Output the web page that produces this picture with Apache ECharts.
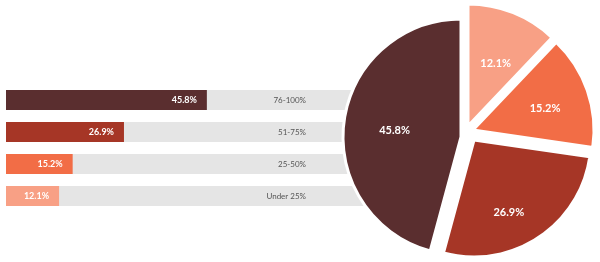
<!DOCTYPE html>
<html>
<head>
<meta charset="utf-8">
<script src="https://cdn.jsdelivr.net/npm/echarts@6/dist/echarts.min.js"></script>
<style>
html,body{margin:0;padding:0;background:#fff;}
#c{width:600px;height:262px;}
</style>
</head>
<body>
<div id="c"></div>
<script>
// Data (bar order, top to bottom)
const categories = ['76-100%', '51-75%', '25-50%', 'Under 25%'];
const values = [45.8, 26.9, 15.2, 12.1];
const colors = ['#5a2e2f', '#a63626', '#f26d46', '#f8a085'];
// Pie order (clockwise from 12 o'clock): indices into categories
const pieOrder = [3, 2, 1, 0];

// per-slice pie geometry (exploded slices), in pie order
const pieGeom = [
  { center: [468, 126], r: 122, dx: 4, dy: -3 },
  { center: [473, 130], r: 121, dx: 12, dy: -1 },
  { center: [474, 140], r: 117, dx: 1, dy: 21 },
  { center: [461, 137], r: 118, dx: -5, dy: 2 }
];

const chart = echarts.init(document.getElementById('c'), null, { renderer: 'canvas' });

const pieSeries = pieGeom.map((g, i) => ({
  type: 'pie',
  z: 5,
  silent: true,
  animation: false,
  center: g.center,
  radius: [0, g.r],
  startAngle: 90,
  clockwise: true,
  labelLayout: { dx: g.dx, dy: g.dy },
  labelLine: { show: false },
  emphasis: { disabled: true },
  data: pieOrder.map((ci, j) => ({
    name: categories[ci],
    value: values[ci],
    itemStyle: j === i
      ? { color: colors[ci], borderColor: '#fff', borderWidth: 3 }
      : { color: 'rgba(0,0,0,0)', borderWidth: 0 },
    label: {
      show: j === i,
      position: 'inside',
      formatter: '{c}%',
      color: '#fff',
      fontFamily: 'Lato',
      fontWeight: 'bold',
      fontSize: 11
    }
  }))
}));

chart.setOption({
  animation: false,
  grid: { left: 6, right: 230, top: 84, height: 128, containLabel: false },
  xAxis: {
    type: 'value', min: 0, max: 83,
    show: false
  },
  yAxis: {
    type: 'category',
    data: categories,
    inverse: true,
    position: 'right',
    axisLine: { show: false },
    axisTick: { show: false },
    splitLine: { show: false },
    axisLabel: {
      inside: true,
      align: 'right',
      margin: 64,
      color: '#555',
      fontFamily: 'Lato',
      fontSize: 8
    },
    z: 3
  },
  series: [
    {
      type: 'bar',
      barWidth: 20,
      silent: true,
      showBackground: true,
      backgroundStyle: { color: '#e5e5e5' },
      data: values.map((v, i) => ({ value: v, itemStyle: { color: colors[i] } })),
      label: {
        show: true,
        position: 'insideRight',
        distance: 10,
        formatter: '{c}%',
        color: '#fff',
        fontFamily: 'Lato',
        fontWeight: 'bold',
        fontSize: 9
      }
    },
    ...pieSeries
  ]
});
</script>
</body>
</html>
